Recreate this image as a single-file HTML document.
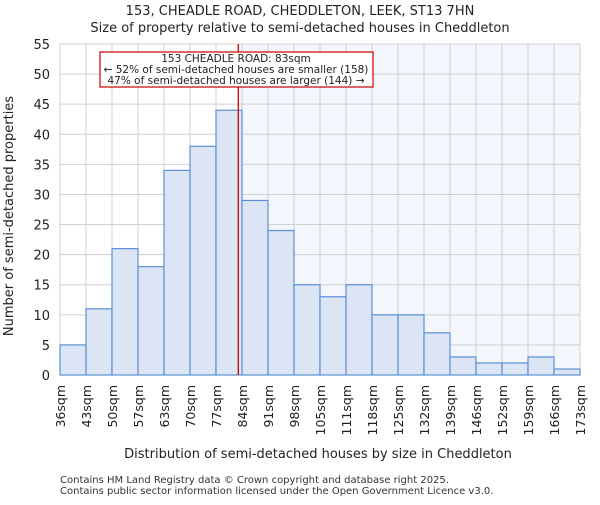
<!DOCTYPE html>
<html><head><meta charset="utf-8"><style>
body{margin:0;background:#fff;font-family:"Liberation Sans","DejaVu Sans",sans-serif}
</style></head><body>
<svg width="600" height="500" xmlns="http://www.w3.org/2000/svg" font-family="DejaVu Sans, Liberation Sans, sans-serif">
<text x="300" y="15" text-anchor="middle" font-size="13" fill="#222">153, CHEADLE ROAD, CHEDDLETON, LEEK, ST13 7HN</text>
<text x="300" y="32" text-anchor="middle" font-size="13" fill="#222">Size of property relative to semi-detached houses in Cheddleton</text>
<g id="plot"></g>
<text x="318" y="458" text-anchor="middle" font-size="13" fill="#222">Distribution of semi-detached houses by size in Cheddleton</text>
<text transform="translate(13,216) rotate(-90)" text-anchor="middle" font-size="13" fill="#222">Number of semi-detached properties</text>
<text x="60" y="483" font-size="10" fill="#333">Contains HM Land Registry data © Crown copyright and database right 2025.</text>
<text x="60" y="494" font-size="10" fill="#333">Contains public sector information licensed under the Open Government Licence v3.0.</text>
</svg>
<script>
const labels=["36sqm","43sqm","50sqm","57sqm","63sqm","70sqm","77sqm","84sqm","91sqm","98sqm","105sqm","111sqm","118sqm","125sqm","132sqm","139sqm","146sqm","152sqm","159sqm","166sqm","173sqm"];
const counts=[5,11,21,18,34,38,44,29,24,15,13,15,10,10,7,3,2,2,3,1];
const yTicks=[0,5,10,15,20,25,30,35,40,45,50,55];
const marker=83;
const X0=60,X1=580,Y0=375,Y1=44,YMAX=55;
const NS="http://www.w3.org/2000/svg";
const g=document.getElementById('plot');
const bw=(X1-X0)/counts.length;
const xb=i=>X0+i*bw;
const y=v=>Y0-(v/YMAX)*(Y0-Y1);
const sizes=labels.map(s=>parseFloat(s));
function xs(v){for(let i=0;i<sizes.length-1;i++){if(v>=sizes[i]&&v<=sizes[i+1])return xb(i)+(v-sizes[i])/(sizes[i+1]-sizes[i])*bw;}return X1;}
function el(t,a,p){const e=document.createElementNS(NS,t);for(const k in a)e.setAttribute(k,a[k]);(p||g).appendChild(e);return e;}
const mx=xs(marker);
let r=el('rect',{x:mx,y:Y1,width:X1-mx,height:Y0-Y1,fill:'#f3f6fc'});


for(let i=0;i<=counts.length;i++){let l=el('line',{x1:xb(i),x2:xb(i),y1:Y1,y2:Y0,stroke:'#d0d0d0','stroke-width':1});

}
yTicks.forEach(t=>{let l=el('line',{x1:X0,x2:X1,y1:y(t),y2:y(t),stroke:'#d0d0d0','stroke-width':1});


let tx=el('text',{x:X0-10,y:y(t)+5,'text-anchor':'end','font-size':13,fill:'#222'});tx.textContent=t;

});
counts.forEach((c,i)=>{let b=el('rect',{x:xb(i),y:y(c),width:bw,height:Y0-y(c),fill:'#dbe5f4',stroke:'#5b8fd6','stroke-width':1.2});

});
labels.forEach((s,i)=>{let tx=el('text',{transform:`translate(${xb(i)+5},385) rotate(-90)`,'text-anchor':'end','font-size':12.5,fill:'#222'});tx.textContent=s;

});
let ml=el('line',{x1:mx,x2:mx,y1:Y1,y2:Y0,stroke:'#cc0000','stroke-width':1.3});


let box=el('rect',{x:100,y:52,width:273,height:35,fill:'#fff',stroke:'#cc0000','stroke-width':1.2});


["153 CHEADLE ROAD: 83sqm","← 52% of semi-detached houses are smaller (158)","47% of semi-detached houses are larger (144) →"].forEach((s,i)=>{let tx=el('text',{x:236,y:62+i*11,'text-anchor':'middle','font-size':10.5,fill:'#222'});tx.textContent=s;

});
</script>
</body></html>
